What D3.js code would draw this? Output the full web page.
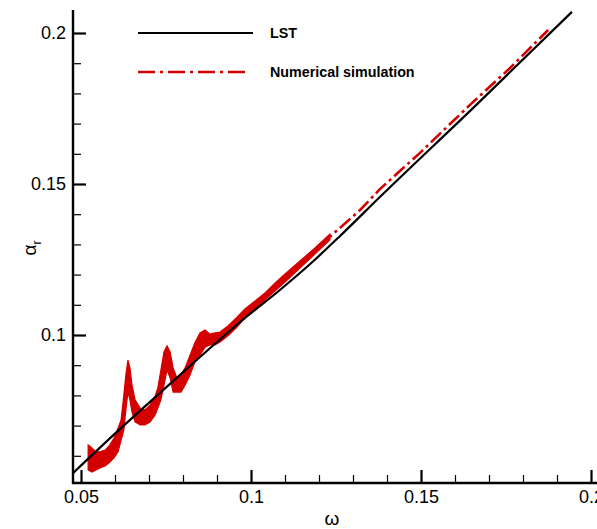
<!DOCTYPE html>
<html>
<head>
<meta charset="utf-8">
<script src="https://cdn.jsdelivr.net/npm/d3@7"></script>
<style>
  html, body { margin: 0; padding: 0; background: #fff; }
  svg { display: block; }
  text { font-family: "Liberation Sans", Arial, Helvetica, sans-serif; }
</style>
</head>
<body>
<svg id="chart" width="597" height="529"></svg>
<script>
// Axis ticks
const omegaMajor = [0.05, 0.1, 0.15, 0.2];
const omegaLabels = ["0.05", "0.1", "0.15", "0.2"];
const omegaMinor = [0.06, 0.07, 0.08, 0.09, 0.11, 0.12, 0.13, 0.14, 0.16, 0.17, 0.18, 0.19];
const alphaMajor = [0.1, 0.15, 0.2];
const alphaLabels = ["0.1", "0.15", "0.2"];
const alphaMinor = [0.06, 0.07, 0.08, 0.09, 0.11, 0.12, 0.13, 0.14, 0.16, 0.17, 0.18, 0.19];

// Linear stability theory
const lstOmega = [0.0477, 0.0615, 0.0732, 0.0850, 0.0968, 0.1085, 0.1174, 0.1262, 0.1379, 0.1659, 0.1944];
const lstAlpha = [0.0543, 0.0689, 0.0808, 0.0927, 0.1043, 0.1149, 0.1235, 0.1328, 0.1457, 0.1758, 0.2070];

// Numerical simulation: spread of the fluctuating signal (low / high envelope)
const bandOmega = [0.0521, 0.0532, 0.0544, 0.0556, 0.0571, 0.0585, 0.0597, 0.0609, 0.0618, 0.0626,
                   0.0632, 0.0638, 0.0644, 0.0650, 0.0659, 0.0674, 0.0688, 0.0703, 0.0718, 0.0726,
                   0.0735, 0.0744, 0.0753, 0.0762, 0.0771, 0.0782, 0.0794, 0.0806, 0.0821, 0.0835,
                   0.0850, 0.0865, 0.0879, 0.0894, 0.0909, 0.0932, 0.0956, 0.0982, 0.1012, 0.1041,
                   0.1071, 0.1100, 0.1144, 0.1188, 0.1232];
const bandHigh  = [0.0636, 0.0626, 0.0613, 0.0613, 0.0619, 0.0636, 0.0659, 0.0692, 0.0719, 0.0801,
                   0.0868, 0.0917, 0.0891, 0.0834, 0.0785, 0.0758, 0.0752, 0.0768, 0.0798, 0.0825,
                   0.0884, 0.0944, 0.0964, 0.0944, 0.0891, 0.0858, 0.0868, 0.0891, 0.0934, 0.0974,
                   0.1007, 0.1017, 0.1003, 0.1007, 0.1010, 0.1030, 0.1056, 0.1086, 0.1113, 0.1139,
                   0.1172, 0.1202, 0.1245, 0.1288, 0.1334];
const bandLow   = [0.0553, 0.0546, 0.0553, 0.0560, 0.0566, 0.0579, 0.0593, 0.0613, 0.0652, 0.0685,
                   0.0752, 0.0811, 0.0785, 0.0745, 0.0712, 0.0702, 0.0702, 0.0712, 0.0735, 0.0758,
                   0.0785, 0.0834, 0.0884, 0.0858, 0.0811, 0.0811, 0.0811, 0.0834, 0.0868, 0.0911,
                   0.0934, 0.0960, 0.0967, 0.0967, 0.0977, 0.0997, 0.1023, 0.1056, 0.1086, 0.1116,
                   0.1146, 0.1175, 0.1222, 0.1268, 0.1315];

// Numerical simulation: mean curve
const simOmega = [0.0521, 0.0544, 0.0571, 0.0597, 0.0618, 0.0632, 0.0638, 0.0650, 0.0674, 0.0703,
                  0.0726, 0.0744, 0.0753, 0.0771, 0.0794, 0.0821, 0.0850, 0.0879, 0.0909, 0.0956,
                  0.1012, 0.1071, 0.1144, 0.1232, 0.1321, 0.1379, 0.1497, 0.1644, 0.1762, 0.1874];
const simAlpha = [0.0595, 0.0583, 0.0593, 0.0626, 0.0686, 0.0810, 0.0864, 0.0790, 0.0730, 0.0740,
                  0.0792, 0.0889, 0.0924, 0.0851, 0.0840, 0.0901, 0.0970, 0.0985, 0.0994, 0.1040,
                  0.1100, 0.1159, 0.1234, 0.1325, 0.1414, 0.1483, 0.1603, 0.1762, 0.1884, 0.2010];

const seriesNames = ["LST", "Numerical simulation"];
const RED = "#d40000";

const svg = d3.select("#chart");

// Plot frame: left axis at x=73, bottom axis at y=483
const frameLeft = 73, frameBottom = 483, frameTop = 10, frameRight = 597;
const x = d3.scaleLinear().domain([0.05, 0.2]).range([81, 591]);
const y = d3.scaleLinear().domain([0.1, 0.2]).range([335, 33]);

// Series
const lstData = lstOmega.map((w, i) => [w, lstAlpha[i]]);
const simData = simOmega.map((w, i) => [w, simAlpha[i]]);
const bandData = bandOmega.map((w, i) => ({ w, lo: bandLow[i], hi: bandHigh[i] }));

svg.append("path")
  .datum(bandData)
  .attr("fill", RED)
  .attr("stroke", RED)
  .attr("stroke-width", 1.2)
  .attr("d", d3.area().x(d => x(d.w)).y0(d => y(d.lo)).y1(d => y(d.hi)).curve(d3.curveLinear));

svg.append("path")
  .datum(simData)
  .attr("fill", "none")
  .attr("stroke", RED)
  .attr("stroke-width", 2.6)
  .attr("stroke-dasharray", "14,4,3,4")
  .attr("d", d3.line().x(d => x(d[0])).y(d => y(d[1])).curve(d3.curveLinear));

svg.append("path")
  .datum(lstData)
  .attr("fill", "none")
  .attr("stroke", "#000")
  .attr("stroke-width", 2.2)
  .attr("d", d3.line().x(d => x(d[0])).y(d => y(d[1])).curve(d3.curveMonotoneX));

// Axes with inward ticks
const gx = svg.append("g").attr("transform", `translate(0,${frameBottom})`);
gx.call(d3.axisBottom(x).tickValues(omegaMinor).tickSize(-8).tickSizeOuter(0).tickFormat(""));
gx.selectAll(".tick line").attr("stroke-width", 1.2);
const gxMaj = svg.append("g").attr("transform", `translate(0,${frameBottom})`);
gxMaj.call(d3.axisBottom(x).tickValues(omegaMajor).tickSize(-13).tickSizeOuter(0)
  .tickFormat((d, i) => omegaLabels[i]));
gxMaj.selectAll(".tick line").attr("stroke-width", 2.2);
gxMaj.selectAll(".tick text").attr("font-size", 18).attr("fill", "#000")
  .attr("font-family", "Liberation Sans, Arial, sans-serif").attr("y", 7).attr("dy", "0.71em");

const gy = svg.append("g").attr("transform", `translate(${frameLeft},0)`);
gy.call(d3.axisLeft(y).tickValues(alphaMinor).tickSize(-8).tickSizeOuter(0).tickFormat(""));
gy.selectAll(".tick line").attr("stroke-width", 1.2);
const gyMaj = svg.append("g").attr("transform", `translate(${frameLeft},0)`);
gyMaj.call(d3.axisLeft(y).tickValues(alphaMajor).tickSize(-13).tickSizeOuter(0)
  .tickFormat((d, i) => alphaLabels[i]));
gyMaj.selectAll(".tick line").attr("stroke-width", 2.2);
gyMaj.selectAll(".tick text").attr("font-size", 18).attr("fill", "#000")
  .attr("font-family", "Liberation Sans, Arial, sans-serif").attr("x", -7);
svg.selectAll(".domain").remove();

svg.append("line").attr("x1", frameLeft).attr("x2", frameLeft).attr("y1", frameTop).attr("y2", frameBottom + 1)
  .attr("stroke", "#000").attr("stroke-width", 2.4);
svg.append("line").attr("x1", frameLeft - 1).attr("x2", frameRight).attr("y1", frameBottom).attr("y2", frameBottom)
  .attr("stroke", "#000").attr("stroke-width", 2.4);

// Axis titles
svg.append("text")
  .attr("x", 332).attr("y", 525)
  .attr("text-anchor", "middle")
  .attr("font-family", "Liberation Serif, Times New Roman, serif")
  .attr("font-size", 19)
  .text("ω");

const yt = svg.append("text")
  .attr("transform", "translate(36,248) rotate(-90)")
  .attr("text-anchor", "middle")
  .attr("font-family", "Liberation Serif, Times New Roman, serif")
  .attr("font-size", 19);
yt.append("tspan").text("α");
yt.append("tspan").attr("font-size", 12).attr("dy", 5)
  .attr("font-family", "Liberation Sans, Arial, sans-serif").text("r");

// Legend
const legend = svg.append("g");
const legendRows = [
  { name: seriesNames[0], color: "#000", dash: null, w: 2.2, y: 33, x2: 253 },
  { name: seriesNames[1], color: RED, dash: "17,5,3,5", w: 2.6, y: 72, x2: 248 }
];
legendRows.forEach(r => {
  legend.append("line")
    .attr("x1", 138).attr("x2", r.x2).attr("y1", r.y).attr("y2", r.y)
    .attr("stroke", r.color).attr("stroke-width", r.w)
    .attr("stroke-dasharray", r.dash);
  legend.append("text")
    .attr("x", 270).attr("y", r.y).attr("dy", "0.35em")
    .attr("font-size", 14.3).attr("font-weight", "bold")
    .text(r.name);
});
</script>
</body>
</html>
